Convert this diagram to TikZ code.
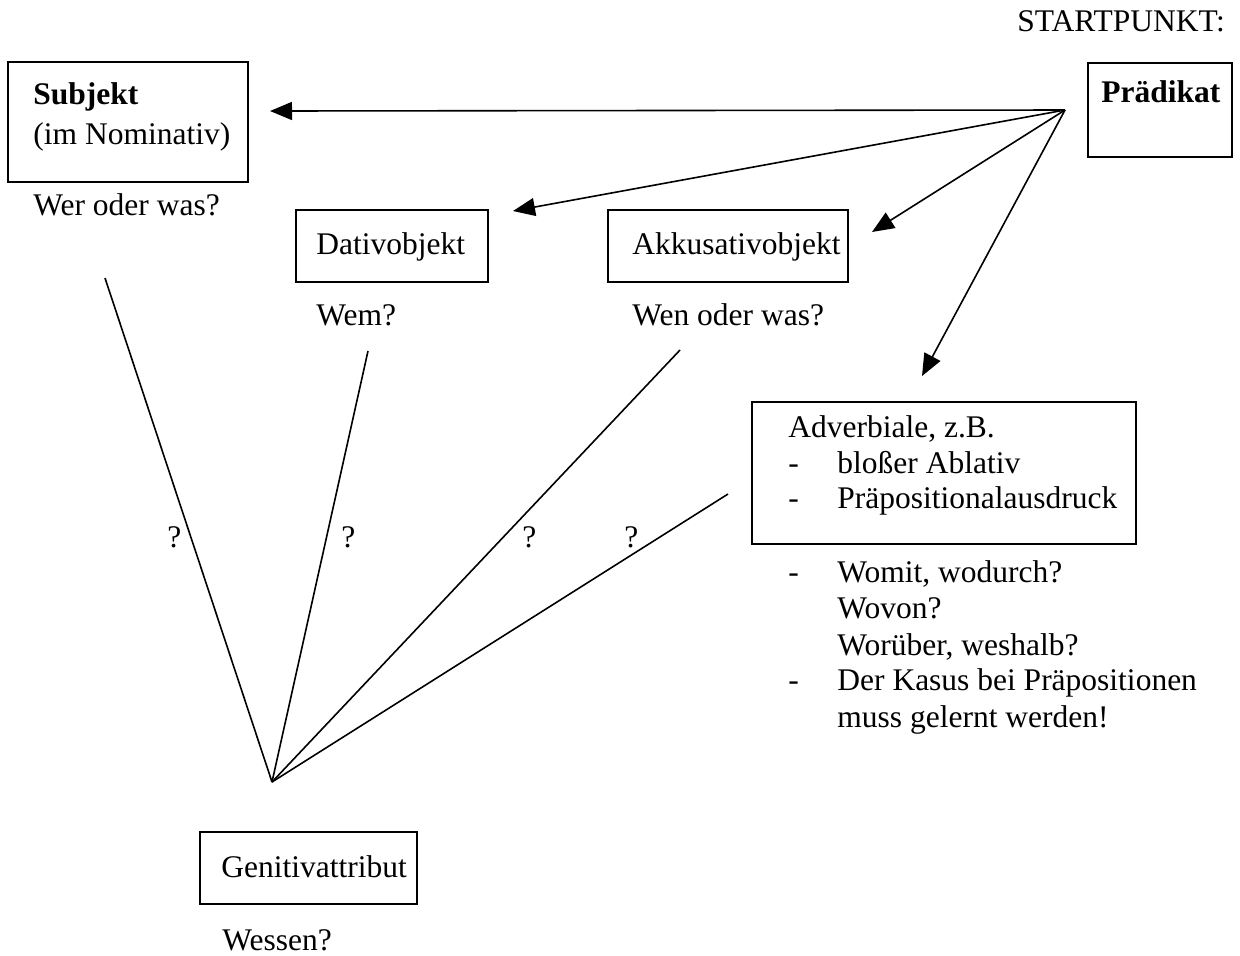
\documentclass[tikz,border=0pt]{standalone}
\usepackage{fontspec}
\setmainfont{Liberation Serif}
\usetikzlibrary{arrows.meta,fit}
\begin{document}
\begin{tikzpicture}[x=0.5pt,y=-0.5pt,
  box/.style={draw, line width=1pt, inner sep=0pt},
  lbl/.style={anchor=base west, inner sep=0pt, font=\fontsize{15.75}{18}\selectfont},
  arr/.style={-{Triangle[length=11pt,width=9pt]}, line width=0.8pt},
  ln/.style={line width=0.8pt}]
\useasboundingbox (0,0) rectangle (1240,955);

% boxes
\node[box, fit={(8,62)(248,182)}] (subj) {};
\node[box, fit={(1088,63)(1232,157)}] (praed) {};
\node[box, fit={(296,210)(488,282)}] (dat) {};
\node[box, fit={(608,210)(848,282)}] (akk) {};
\node[box, fit={(752,402)(1136,544)}] (adv) {};
\node[box, fit={(200,832)(417,904)}] (gen) {};

% texts
\node[lbl] (startpunkt) at (1017,31) {STARTPUNKT:};
\node[lbl] (subjT) at (33,104) {\textbf{Subjekt}};
\node[lbl] (subjN) at (33,144) {(im Nominativ)};
\node[lbl] (subjQ) at (33,215) {Wer oder was?};
\node[lbl] (praedT) at (1101,102) {\textbf{Prädikat}};
\node[lbl] (datT) at (316,254) {Dativobjekt};
\node[lbl] (datQ) at (316,325) {Wem?};
\node[lbl] (akkT) at (632,254) {Akkusativobjekt};
\node[lbl] (akkQ) at (632,325) {Wen oder was?};
\node[lbl] (advT1) at (788,437) {Adverbiale, z.B.};
\node[lbl] (advD1) at (788,473) {-};
\node[lbl] (advT2) at (837,473) {bloßer Ablativ};
\node[lbl] (advD2) at (788,508) {-};
\node[lbl] (advT3) at (837,508) {Präpositionalausdruck};
\node[lbl] (q1d) at (788,582) {-};
\node[lbl] (q1) at (837,582) {Womit, wodurch?};
\node[lbl] (q2) at (837,618) {Wovon?};
\node[lbl] (q3) at (837,655) {Worüber, weshalb?};
\node[lbl] (q4d) at (788,690) {-};
\node[lbl] (q4) at (837,690) {Der Kasus bei Präpositionen};
\node[lbl] (q5) at (837,727) {muss gelernt werden!};
\node[lbl] (genT) at (221,877) {Genitivattribut};
\node[lbl] (genQ) at (222,950) {Wessen?};
\node[lbl] (qa) at (167,547) {?};
\node[lbl] (qb) at (341,547) {?};
\node[lbl] (qc) at (522,547) {?};
\node[lbl] (qd) at (624,547) {?};

% arrows from Prädikat
\coordinate (start) at (1065,110);
\coordinate (tS) at (270,111);
\coordinate (tD) at (513,211);
\coordinate (tA) at (872,232);
\coordinate (tV) at (922,376);
\draw[arr] (start) -- (tS);
\draw[arr] (start) -- (tD);
\draw[arr] (start) -- (tA);
\draw[arr] (start) -- (tV);

% lines to the Genitive apex
\coordinate (apex) at (272,782);
\coordinate (lS) at (105,278);
\coordinate (lD) at (368,351);
\coordinate (lA) at (680,350);
\coordinate (lV) at (728,494);
\draw[ln] (apex) -- (lS);
\draw[ln] (apex) -- (lD);
\draw[ln] (apex) -- (lA);
\draw[ln] (apex) -- (lV);
\end{tikzpicture}
\end{document}
